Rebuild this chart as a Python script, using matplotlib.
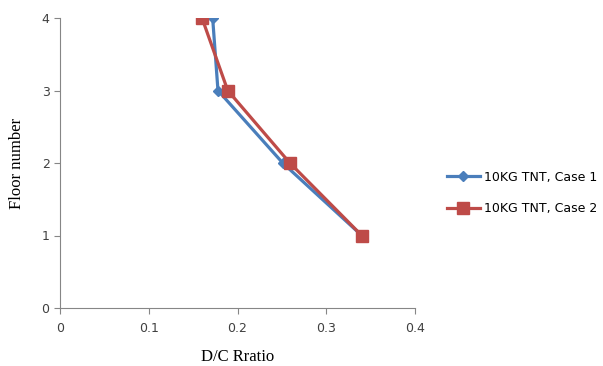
import matplotlib.pyplot as plt

# Дані
floors = [4, 3, 2, 1]
dc_case1 = [0.172, 0.178, 0.251, 0.340]
dc_case2 = [0.160, 0.189, 0.259, 0.340]
labels = ['10KG TNT, Case 1', '10KG TNT, Case 2']
x_ticks = [0, 0.1, 0.2, 0.3, 0.4]
y_ticks = [0, 1, 2, 3, 4]

fig = plt.figure(figsize=(6.03, 3.66), dpi=100)
ax = fig.add_axes([60 / 603, 58 / 366, 355 / 603, 290 / 366])

ax.plot(dc_case1, floors, color='#4a7ebb', linewidth=2.3, marker='D',
        markersize=5.5, label=labels[0], zorder=3)
ax.plot(dc_case2, floors, color='#be4b48', linewidth=2.3, marker='s',
        markersize=8, label=labels[1], zorder=4)

ax.set_xlim(0, 0.4)
ax.set_ylim(0, 4)
ax.set_xticks(x_ticks)
ax.set_xticklabels(['0', '0.1', '0.2', '0.3', '0.4'])
ax.set_yticks(y_ticks)
for s in ['top', 'right']:
    ax.spines[s].set_visible(False)
for s in ['left', 'bottom']:
    ax.spines[s].set_color('#868686')
ax.tick_params(colors='#868686', labelcolor='#404040', labelsize=9, length=4)
ax.tick_params(axis='x', pad=6)

ax.set_xlabel('D/C Rratio', family='Liberation Serif', fontsize=12, labelpad=10)
ax.set_ylabel('Floor number', family='Liberation Serif', fontsize=12, labelpad=12)

ax.legend(loc='center left', bbox_to_anchor=(442 / 603, 1 - 193 / 366),
          bbox_transform=fig.transFigure, frameon=False, fontsize=9,
          handlelength=2.6, handletextpad=0.4, labelspacing=1.5,
          borderaxespad=0)

plt.savefig('out.png', dpi=100)
